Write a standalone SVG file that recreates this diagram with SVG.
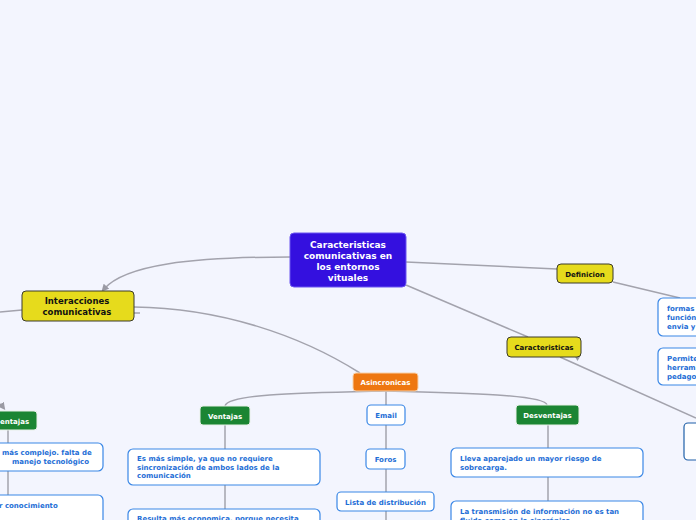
<svg xmlns="http://www.w3.org/2000/svg" width="696" height="520" viewBox="0 0 696 520">
<defs>
<style>
.c{fill:none;stroke:#a3a3ad;stroke-width:1.5}
.t{font-family:"DejaVu Sans",Verdana,sans-serif;font-weight:bold}
.y{fill:#e6db1c;stroke:#3a3a2a;stroke-width:1}
.g{fill:#1b8533;stroke:#e8f0e8;stroke-width:1}
.w{fill:#ffffff;stroke:#3a87e6;stroke-width:1.2}
.bt{fill:#1e6ed6;font-size:7px}
.wt{fill:#ffffff;font-size:7px}
.kt{fill:#111;font-size:7px}
.kl{fill:#111;font-size:8.5px}
</style>
<marker id="ah" viewBox="0 0 10 10" refX="5" refY="5" markerWidth="5" markerHeight="5" orient="auto"><path d="M0,0 L10,5 L0,10 z" fill="#9a9aa4"/></marker>
</defs>
<rect width="696" height="520" fill="#f3f5fe"/>
<g id="connectors">
<path class="c" d="M290,257 C190,257 125,265 104,289" marker-end="url(#ah)"/>
<path class="c" d="M406,262 L557,269"/>
<path class="c" d="M613,282 L680,298"/>
<path class="c" d="M406,285 L528,337"/>
<path class="c" d="M560,357 L696,418"/>
<path d="M574,355 L581,355 L577.5,361 z" fill="#9a9aa4"/>
<path class="c" d="M22,310 L0,312"/>
<path class="c" d="M134,307 C220,308 300,335 360,373"/>
<path class="c" d="M134,313 L140,313"/>
<path class="c" d="M385,391 C300,393 228,394 225,406"/>
<path class="c" d="M385,391 C470,393 545,395 547,405"/>
<path class="c" d="M386,391 L386,405"/>
<path class="c" d="M386,425 L386,449"/>
<path class="c" d="M386,469 L386,492"/>
<path class="c" d="M386,511 L386,520"/>
<path class="c" d="M225,425 L225,449"/>
<path class="c" d="M225,485 L225,509"/>
<path class="c" d="M548,425 L548,448"/>
<path class="c" d="M548,477 L548,501"/>
<path class="c" d="M8,430 L8,443"/>
<path class="c" d="M8,471 L8,495"/>
<path class="c" d="M-12,399 C-5,401 0,403 3,407" marker-end="url(#ah)"/>
</g>
<g id="central">
<rect x="290" y="233" width="116" height="54" rx="4" fill="#3410df" stroke="#6a55f0" stroke-width="1"/>
<text class="t" fill="#fff" font-size="9" text-anchor="middle"><tspan x="348" y="248">Caracteristicas</tspan><tspan x="348" y="259">comunicativas en</tspan><tspan x="348" y="270">los entornos</tspan><tspan x="348" y="281">vituales</tspan></text>
</g>
<g id="interacciones">
<rect class="y" x="22" y="291" width="112" height="30" rx="4"/>
<text class="t kl" text-anchor="middle"><tspan x="77" y="304">Interacciones</tspan><tspan x="77" y="314.5">comunicativas</tspan></text>
</g>
<g id="definicion">
<rect class="y" x="557" y="264" width="56" height="19" rx="4"/>
<text class="t kt" x="585" y="276.5" text-anchor="middle">Definicion</text>
</g>
<g id="caracteristicas">
<rect class="y" x="507" y="337" width="74" height="20" rx="4"/>
<text class="t kt" x="544" y="350" text-anchor="middle">Caracteristicas</text>
</g>
<g id="asincronicas">
<rect x="353" y="373" width="65" height="18" rx="3" fill="#ee7711" stroke="#f8d0a8" stroke-width="1"/>
<text class="t wt" x="385.5" y="385" text-anchor="middle">Asincronicas</text>
</g>
<g id="ventajas-left">
<rect class="g" x="-20" y="411" width="57" height="19" rx="3"/>
<text class="t wt" x="0" y="423.5">entajas</text>
</g>
<g id="ventajas">
<rect class="g" x="200" y="406" width="50" height="19" rx="3"/>
<text class="t wt" x="225" y="418.5" text-anchor="middle">Ventajas</text>
</g>
<g id="desventajas">
<rect class="g" x="516" y="405" width="63" height="20" rx="3"/>
<text class="t wt" x="547.5" y="418" text-anchor="middle">Desventajas</text>
</g>
<g id="email">
<rect class="w" x="367" y="405" width="38" height="20" rx="4"/>
<text class="t bt" x="386" y="418" text-anchor="middle">Email</text>
</g>
<g id="foros">
<rect class="w" x="366" y="449" width="39" height="20" rx="4"/>
<text class="t bt" x="385.5" y="462" text-anchor="middle">Foros</text>
</g>
<g id="lista">
<rect class="w" x="337" y="492" width="97" height="19" rx="4"/>
<text class="t bt" x="385.5" y="505" text-anchor="middle">Lista de distribución</text>
</g>
<g id="simple">
<rect class="w" x="128" y="449" width="192" height="36" rx="5"/>
<text class="t bt"><tspan x="137" y="461">Es más simple, ya que no requiere</tspan><tspan x="137" y="469.5">sincronización de ambos lados de la</tspan><tspan x="137" y="478">comunicación</tspan></text>
</g>
<g id="economica">
<rect class="w" x="128" y="509" width="192" height="30" rx="5"/>
<text class="t bt" x="137" y="521">Resulta más economica, porque necesita</text>
</g>
<g id="lleva">
<rect class="w" x="451" y="448" width="192" height="29" rx="5"/>
<text class="t bt"><tspan x="460" y="461">Lleva aparejado un mayor riesgo de</tspan><tspan x="460" y="469.5">sobrecarga.</tspan></text>
</g>
<g id="transmision">
<rect class="w" x="451" y="501" width="192" height="30" rx="5"/>
<text class="t bt"><tspan x="460" y="514">La transmisión de información no es tan</tspan><tspan x="460" y="522.5">fluida como en la sincrónica.</tspan></text>
</g>
<g id="complejo">
<rect class="w" x="-20" y="443" width="123" height="28" rx="5"/>
<text class="t bt"><tspan x="2" y="455">más complejo. falta de</tspan><tspan x="12" y="463.5">manejo tecnológico</tspan></text>
</g>
<g id="conocimiento">
<rect class="w" x="-20" y="495" width="123" height="40" rx="5"/>
<text class="t bt" x="-1" y="508">r conocimiento</text>
</g>
<g id="formas">
<rect class="w" x="658" y="298" width="60" height="38" rx="5"/>
<text class="t bt"><tspan x="667" y="311">formas</tspan><tspan x="667" y="320">función</tspan><tspan x="667" y="329">envia y</tspan></text>
</g>
<g id="permite">
<rect class="w" x="658" y="348" width="60" height="37" rx="5"/>
<text class="t bt"><tspan x="667" y="361">Permite</tspan><tspan x="667" y="370">herrami</tspan><tspan x="667" y="379">pedagog</tspan></text>
</g>
<g id="right-box">
<rect x="684" y="423" width="30" height="37" rx="4" fill="#fff" stroke="#1f5fa8" stroke-width="1.2"/>
</g>
</svg>
